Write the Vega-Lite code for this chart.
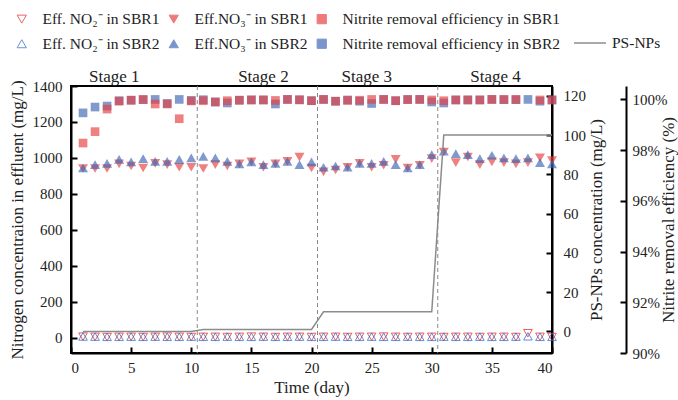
{
  "$schema": "https://vega.github.io/schema/vega-lite/v6.json",
  "width": 481,
  "height": 267,
  "autosize": {"type": "none"},
  "padding": {"left": 71, "top": 86, "right": 126, "bottom": 47},
  "config": {
    "font": "Liberation Serif",
    "text": {"font": "Liberation Serif"},
    "view": {"stroke": "#000", "strokeWidth": 2},
    "axis": {
      "grid": false, "domainColor": "#000", "domainWidth": 2,
      "tickColor": "#000", "tickWidth": 2, "tickSize": -6,
      "labelFont": "Liberation Serif", "labelFontSize": 15, "labelColor": "#222", "labelPadding": 13, "format": "d",
      "titleFont": "Liberation Serif", "titleFontSize": 17, "titleFontWeight": "normal", "titleColor": "#222"
    },
    "legend": {
      "labelFont": "Liberation Serif", "labelFontSize": 15.5, "labelColor": "#222", "padding": 0, "labelLimit": 400
    }
  },
  "datasets": {
    "stages": [
      {"d": 3.6, "v": 1450, "t": "Stage 1"},
      {"d": 16.0, "v": 1450, "t": "Stage 2"},
      {"d": 24.6, "v": 1450, "t": "Stage 3"},
      {"d": 35.3, "v": 1450, "t": "Stage 4"}
    ],
    "cuts": [{"d": 10.5}, {"d": 20.5}, {"d": 30.5}],
    "no2": [
      {"d":1,"s":"no2_1","v":6},{"d":2,"s":"no2_1","v":5},{"d":3,"s":"no2_1","v":4},{"d":4,"s":"no2_1","v":5},{"d":5,"s":"no2_1","v":5},
      {"d":6,"s":"no2_1","v":4},{"d":7,"s":"no2_1","v":5},{"d":8,"s":"no2_1","v":6},{"d":9,"s":"no2_1","v":5},{"d":10,"s":"no2_1","v":4},
      {"d":11,"s":"no2_1","v":5},{"d":12,"s":"no2_1","v":5},{"d":13,"s":"no2_1","v":4},{"d":14,"s":"no2_1","v":5},{"d":15,"s":"no2_1","v":6},
      {"d":16,"s":"no2_1","v":5},{"d":17,"s":"no2_1","v":4},{"d":18,"s":"no2_1","v":5},{"d":19,"s":"no2_1","v":5},{"d":20,"s":"no2_1","v":4},
      {"d":21,"s":"no2_1","v":5},{"d":22,"s":"no2_1","v":5},{"d":23,"s":"no2_1","v":4},{"d":24,"s":"no2_1","v":5},{"d":25,"s":"no2_1","v":5},
      {"d":26,"s":"no2_1","v":6},{"d":27,"s":"no2_1","v":5},{"d":28,"s":"no2_1","v":4},{"d":29,"s":"no2_1","v":5},{"d":30,"s":"no2_1","v":5},
      {"d":31,"s":"no2_1","v":4},{"d":32,"s":"no2_1","v":5},{"d":33,"s":"no2_1","v":5},{"d":34,"s":"no2_1","v":4},{"d":35,"s":"no2_1","v":5},
      {"d":36,"s":"no2_1","v":5},{"d":37,"s":"no2_1","v":4},{"d":38,"s":"no2_1","v":25},{"d":39,"s":"no2_1","v":5},{"d":40,"s":"no2_1","v":4},
      {"d":1,"s":"no2_2","v":7},{"d":2,"s":"no2_2","v":6},{"d":3,"s":"no2_2","v":5},{"d":4,"s":"no2_2","v":5},{"d":5,"s":"no2_2","v":6},
      {"d":6,"s":"no2_2","v":5},{"d":7,"s":"no2_2","v":6},{"d":8,"s":"no2_2","v":5},{"d":9,"s":"no2_2","v":5},{"d":10,"s":"no2_2","v":6},
      {"d":11,"s":"no2_2","v":5},{"d":12,"s":"no2_2","v":5},{"d":13,"s":"no2_2","v":6},{"d":14,"s":"no2_2","v":5},{"d":15,"s":"no2_2","v":5},
      {"d":16,"s":"no2_2","v":6},{"d":17,"s":"no2_2","v":5},{"d":18,"s":"no2_2","v":5},{"d":19,"s":"no2_2","v":6},{"d":20,"s":"no2_2","v":5},
      {"d":21,"s":"no2_2","v":5},{"d":22,"s":"no2_2","v":6},{"d":23,"s":"no2_2","v":5},{"d":24,"s":"no2_2","v":5},{"d":25,"s":"no2_2","v":6},
      {"d":26,"s":"no2_2","v":5},{"d":27,"s":"no2_2","v":5},{"d":28,"s":"no2_2","v":6},{"d":29,"s":"no2_2","v":5},{"d":30,"s":"no2_2","v":5},
      {"d":31,"s":"no2_2","v":6},{"d":32,"s":"no2_2","v":5},{"d":33,"s":"no2_2","v":5},{"d":34,"s":"no2_2","v":6},{"d":35,"s":"no2_2","v":5},
      {"d":36,"s":"no2_2","v":5},{"d":37,"s":"no2_2","v":6},{"d":38,"s":"no2_2","v":8},{"d":39,"s":"no2_2","v":5},{"d":40,"s":"no2_2","v":5}
    ],
    "no3": [
      {"d":1,"s":"no3_1","v":941},{"d":2,"s":"no3_1","v":941},{"d":3,"s":"no3_1","v":941},{"d":4,"s":"no3_1","v":967},{"d":5,"s":"no3_1","v":955},
      {"d":6,"s":"no3_1","v":944},{"d":7,"s":"no3_1","v":970},{"d":8,"s":"no3_1","v":963},{"d":9,"s":"no3_1","v":948},{"d":10,"s":"no3_1","v":948},
      {"d":11,"s":"no3_1","v":941},{"d":12,"s":"no3_1","v":963},{"d":13,"s":"no3_1","v":955},{"d":14,"s":"no3_1","v":967},{"d":15,"s":"no3_1","v":978},
      {"d":16,"s":"no3_1","v":948},{"d":17,"s":"no3_1","v":967},{"d":18,"s":"no3_1","v":981},{"d":19,"s":"no3_1","v":1004},{"d":20,"s":"no3_1","v":944},
      {"d":21,"s":"no3_1","v":922},{"d":22,"s":"no3_1","v":933},{"d":23,"s":"no3_1","v":948},{"d":24,"s":"no3_1","v":970},{"d":25,"s":"no3_1","v":948},
      {"d":26,"s":"no3_1","v":959},{"d":27,"s":"no3_1","v":992},{"d":28,"s":"no3_1","v":944},{"d":29,"s":"no3_1","v":959},{"d":30,"s":"no3_1","v":996},
      {"d":31,"s":"no3_1","v":1033},{"d":32,"s":"no3_1","v":974},{"d":33,"s":"no3_1","v":1005},{"d":34,"s":"no3_1","v":963},{"d":35,"s":"no3_1","v":978},
      {"d":36,"s":"no3_1","v":974},{"d":37,"s":"no3_1","v":967},{"d":38,"s":"no3_1","v":974},{"d":39,"s":"no3_1","v":1000},{"d":40,"s":"no3_1","v":985},
      {"d":1,"s":"no3_2","v":944},{"d":2,"s":"no3_2","v":963},{"d":3,"s":"no3_2","v":970},{"d":4,"s":"no3_2","v":992},{"d":5,"s":"no3_2","v":978},
      {"d":6,"s":"no3_2","v":996},{"d":7,"s":"no3_2","v":981},{"d":8,"s":"no3_2","v":981},{"d":9,"s":"no3_2","v":992},{"d":10,"s":"no3_2","v":1000},
      {"d":11,"s":"no3_2","v":1009},{"d":12,"s":"no3_2","v":1000},{"d":13,"s":"no3_2","v":981},{"d":14,"s":"no3_2","v":967},{"d":15,"s":"no3_2","v":978},
      {"d":16,"s":"no3_2","v":963},{"d":17,"s":"no3_2","v":970},{"d":18,"s":"no3_2","v":981},{"d":19,"s":"no3_2","v":963},{"d":20,"s":"no3_2","v":978},
      {"d":21,"s":"no3_2","v":948},{"d":22,"s":"no3_2","v":955},{"d":23,"s":"no3_2","v":948},{"d":24,"s":"no3_2","v":970},{"d":25,"s":"no3_2","v":970},
      {"d":26,"s":"no3_2","v":981},{"d":27,"s":"no3_2","v":963},{"d":28,"s":"no3_2","v":944},{"d":29,"s":"no3_2","v":963},{"d":30,"s":"no3_2","v":1018},
      {"d":31,"s":"no3_2","v":1037},{"d":32,"s":"no3_2","v":1024},{"d":33,"s":"no3_2","v":1018},{"d":34,"s":"no3_2","v":996},{"d":35,"s":"no3_2","v":1015},
      {"d":36,"s":"no3_2","v":1000},{"d":37,"s":"no3_2","v":996},{"d":38,"s":"no3_2","v":1000},{"d":39,"s":"no3_2","v":974},{"d":40,"s":"no3_2","v":967}
    ],
    "eff": [
      {"d":1,"s":"eff_2","v":99.47},{"d":2,"s":"eff_2","v":99.70},{"d":3,"s":"eff_2","v":99.74},{"d":4,"s":"eff_2","v":99.95},{"d":5,"s":"eff_2","v":99.97},
      {"d":6,"s":"eff_2","v":99.99},{"d":7,"s":"eff_2","v":100.0},{"d":8,"s":"eff_2","v":99.84},{"d":9,"s":"eff_2","v":100.0},{"d":10,"s":"eff_2","v":99.96},
      {"d":11,"s":"eff_2","v":99.99},{"d":12,"s":"eff_2","v":99.90},{"d":13,"s":"eff_2","v":99.86},{"d":14,"s":"eff_2","v":99.97},{"d":15,"s":"eff_2","v":99.98},
      {"d":16,"s":"eff_2","v":99.98},{"d":17,"s":"eff_2","v":99.82},{"d":18,"s":"eff_2","v":100.0},{"d":19,"s":"eff_2","v":99.98},{"d":20,"s":"eff_2","v":99.95},
      {"d":21,"s":"eff_2","v":100.0},{"d":22,"s":"eff_2","v":99.93},{"d":23,"s":"eff_2","v":99.98},{"d":24,"s":"eff_2","v":99.93},{"d":25,"s":"eff_2","v":99.84},
      {"d":26,"s":"eff_2","v":100.0},{"d":27,"s":"eff_2","v":99.95},{"d":28,"s":"eff_2","v":100.0},{"d":29,"s":"eff_2","v":100.0},{"d":30,"s":"eff_2","v":99.90},
      {"d":31,"s":"eff_2","v":99.86},{"d":32,"s":"eff_2","v":99.98},{"d":33,"s":"eff_2","v":99.98},{"d":34,"s":"eff_2","v":99.98},{"d":35,"s":"eff_2","v":100.0},
      {"d":36,"s":"eff_2","v":99.99},{"d":37,"s":"eff_2","v":99.99},{"d":38,"s":"eff_2","v":100.0},{"d":39,"s":"eff_2","v":99.93},{"d":40,"s":"eff_2","v":99.98},
      {"d":1,"s":"eff_1","v":98.28},{"d":2,"s":"eff_1","v":98.73},{"d":3,"s":"eff_1","v":99.62},{"d":4,"s":"eff_1","v":99.93},{"d":5,"s":"eff_1","v":99.97},
      {"d":6,"s":"eff_1","v":100.0},{"d":7,"s":"eff_1","v":99.82},{"d":8,"s":"eff_1","v":99.82},{"d":9,"s":"eff_1","v":99.24},{"d":10,"s":"eff_1","v":99.94},
      {"d":11,"s":"eff_1","v":99.95},{"d":12,"s":"eff_1","v":99.90},{"d":13,"s":"eff_1","v":99.95},{"d":14,"s":"eff_1","v":99.97},{"d":15,"s":"eff_1","v":99.98},
      {"d":16,"s":"eff_1","v":99.98},{"d":17,"s":"eff_1","v":99.96},{"d":18,"s":"eff_1","v":100.0},{"d":19,"s":"eff_1","v":99.99},{"d":20,"s":"eff_1","v":99.95},
      {"d":21,"s":"eff_1","v":100.0},{"d":22,"s":"eff_1","v":99.93},{"d":23,"s":"eff_1","v":99.96},{"d":24,"s":"eff_1","v":99.97},{"d":25,"s":"eff_1","v":100.0},
      {"d":26,"s":"eff_1","v":100.0},{"d":27,"s":"eff_1","v":99.95},{"d":28,"s":"eff_1","v":99.99},{"d":29,"s":"eff_1","v":100.0},{"d":30,"s":"eff_1","v":99.98},
      {"d":31,"s":"eff_1","v":99.95},{"d":32,"s":"eff_1","v":99.98},{"d":33,"s":"eff_1","v":99.98},{"d":34,"s":"eff_1","v":99.98},{"d":35,"s":"eff_1","v":100.0},
      {"d":36,"s":"eff_1","v":100.0},{"d":37,"s":"eff_1","v":100.0},{"d":39,"s":"eff_1","v":99.98},{"d":40,"s":"eff_1","v":99.98}
    ],
    "ps": [
      {"d":1,"n":"PS-NPs","v":0},{"d":2,"n":"PS-NPs","v":0},{"d":3,"n":"PS-NPs","v":0},{"d":4,"n":"PS-NPs","v":0},{"d":5,"n":"PS-NPs","v":0},
      {"d":6,"n":"PS-NPs","v":0},{"d":7,"n":"PS-NPs","v":0},{"d":8,"n":"PS-NPs","v":0},{"d":9,"n":"PS-NPs","v":0},{"d":10,"n":"PS-NPs","v":0},
      {"d":11,"n":"PS-NPs","v":1},{"d":12,"n":"PS-NPs","v":1},{"d":13,"n":"PS-NPs","v":1},{"d":14,"n":"PS-NPs","v":1},{"d":15,"n":"PS-NPs","v":1},
      {"d":16,"n":"PS-NPs","v":1},{"d":17,"n":"PS-NPs","v":1},{"d":18,"n":"PS-NPs","v":1},{"d":19,"n":"PS-NPs","v":1},{"d":20,"n":"PS-NPs","v":1},
      {"d":21,"n":"PS-NPs","v":10},{"d":22,"n":"PS-NPs","v":10},{"d":23,"n":"PS-NPs","v":10},{"d":24,"n":"PS-NPs","v":10},{"d":25,"n":"PS-NPs","v":10},
      {"d":26,"n":"PS-NPs","v":10},{"d":27,"n":"PS-NPs","v":10},{"d":28,"n":"PS-NPs","v":10},{"d":29,"n":"PS-NPs","v":10},{"d":30,"n":"PS-NPs","v":10},
      {"d":31,"n":"PS-NPs","v":100},{"d":32,"n":"PS-NPs","v":100},{"d":33,"n":"PS-NPs","v":100},{"d":34,"n":"PS-NPs","v":100},{"d":35,"n":"PS-NPs","v":100},
      {"d":36,"n":"PS-NPs","v":100},{"d":37,"n":"PS-NPs","v":100},{"d":38,"n":"PS-NPs","v":100},{"d":39,"n":"PS-NPs","v":100},{"d":40,"n":"PS-NPs","v":100}
    ]
  },
  "layer": [
    {
      "layer": [
        {
          "data": {"name": "cuts"},
          "mark": {"type": "rule", "color": "#888", "strokeWidth": 1, "strokeDash": [4, 3]},
          "encoding": {
            "x": {"field": "d", "type": "quantitative", "scale": {"domain": [0, 40], "nice": false}, "axis": {"values": [0,5,10,15,20,25,30,35,40], "title": "Time (day)", "titlePadding": 4}}
          }
        },
        {
          "data": {"name": "stages"},
          "mark": {"type": "text", "font": "Liberation Serif", "fontSize": 17, "color": "#222", "baseline": "middle"},
          "encoding": {
            "x": {"field": "d", "type": "quantitative", "scale": {"domain": [0, 40], "nice": false}, "axis": {"values": [0,5,10,15,20,25,30,35,40], "title": "Time (day)", "titlePadding": 4}},
            "y": {"field": "v", "type": "quantitative", "scale": {"domain": [-85, 1400], "nice": false, "zero": false}, "axis": {"orient": "left", "values": [0,200,400,600,800,1000,1200,1400], "labelPadding": 15, "titlePadding": 6, "title": "Nitrogen concentraion in effluent (mg/L)"}},
            "text": {"field": "t"}
          }
        },
        {
          "data": {"name": "no2"},
          "mark": {"type": "point", "size": 75, "strokeWidth": 1, "opacity": 0.7},
          "encoding": {
            "x": {"field": "d", "type": "quantitative", "scale": {"domain": [0, 40], "nice": false}, "axis": {"values": [0,5,10,15,20,25,30,35,40], "title": "Time (day)", "titlePadding": 4}},
            "y": {"field": "v", "type": "quantitative", "scale": {"domain": [-85, 1400], "nice": false, "zero": false}, "axis": {"orient": "left", "values": [0,200,400,600,800,1000,1200,1400], "labelPadding": 15, "titlePadding": 6, "title": "Nitrogen concentraion in effluent (mg/L)"}},
            "shape": {"field": "s", "type": "nominal",
              "scale": {"domain": ["no2_1","no3_1","eff_1","no2_2","no3_2","eff_2"], "range": ["triangle-down","triangle-down","square","triangle-up","triangle-up","square"]},
              "legend": {"orient": "none", "legendX": -57, "legendY": -75, "direction": "horizontal", "columns": 3, "title": null, "symbolSize": 85, "symbolStrokeWidth": 1, "symbolOpacity": 0.68, "labelOffset": 13, "columnPadding": 6, "rowPadding": 8,
                "labelExpr": "{'no2_1':'Eff. NO₂⁻ in SBR1','no3_1':'Eff.NO₃⁻ in SBR1','eff_1':'Nitrite removal efficiency in SBR1','no2_2':'Eff. NO₂⁻ in SBR2','no3_2':'Eff.NO₃⁻ in SBR2','eff_2':'Nitrite removal efficiency in SBR2'}[datum.value]"}},
            "fill": {"field": "s", "type": "nominal",
              "scale": {"domain": ["no2_1","no3_1","eff_1","no2_2","no3_2","eff_2"], "range": ["transparent","#E63C3C","#E63C3C","transparent","#3C64B4","#3C64B4"]}},
            "stroke": {"field": "s", "type": "nominal",
              "scale": {"domain": ["no2_1","no3_1","eff_1","no2_2","no3_2","eff_2"], "range": ["#E01A1A","#E63C3C","#E63C3C","#2060C8","#3C64B4","#3C64B4"]}}
          }
        },
        {
          "data": {"name": "no3"},
          "mark": {"type": "point", "size": 100, "strokeWidth": 0, "opacity": 0.65},
          "encoding": {
            "x": {"field": "d", "type": "quantitative", "scale": {"domain": [0, 40], "nice": false}, "axis": {"values": [0,5,10,15,20,25,30,35,40], "title": "Time (day)", "titlePadding": 4}},
            "y": {"field": "v", "type": "quantitative", "scale": {"domain": [-85, 1400], "nice": false, "zero": false}, "axis": {"orient": "left", "values": [0,200,400,600,800,1000,1200,1400], "labelPadding": 15, "titlePadding": 6, "title": "Nitrogen concentraion in effluent (mg/L)"}},
            "shape": {"field": "s", "type": "nominal"},
            "fill": {"field": "s", "type": "nominal"},
            "stroke": {"field": "s", "type": "nominal"}
          }
        }
      ]
    },
    {
      "data": {"name": "eff"},
      "mark": {"type": "point", "size": 75, "strokeWidth": 0, "opacity": 0.65},
      "encoding": {
        "x": {"field": "d", "type": "quantitative", "scale": {"domain": [0, 40], "nice": false}, "axis": {"values": [0,5,10,15,20,25,30,35,40], "title": "Time (day)", "titlePadding": 4}},
        "y": {"field": "v", "type": "quantitative", "scale": {"domain": [90, 100.53], "nice": false, "zero": false},
          "axis": {"orient": "right", "offset": 74, "values": [90,92,94,96,98,100], "labelExpr": "datum.value + '%'", "labelPadding": 12, "titleAngle": 270, "titleBaseline": "top", "titlePadding": -6, "title": "Nitrite removal efficiency (%)"}},
        "shape": {"field": "s", "type": "nominal"},
        "fill": {"field": "s", "type": "nominal"},
        "stroke": {"field": "s", "type": "nominal"}
      }
    },
    {
      "data": {"name": "ps"},
      "mark": {"type": "line", "strokeWidth": 1.5, "interpolate": "linear"},
      "encoding": {
        "x": {"field": "d", "type": "quantitative", "scale": {"domain": [0, 40], "nice": false}, "axis": {"values": [0,5,10,15,20,25,30,35,40], "title": "Time (day)", "titlePadding": 4}},
        "y": {"field": "v", "type": "quantitative", "scale": {"domain": [-11, 125], "nice": false, "zero": false},
          "axis": {"orient": "right", "values": [0,20,40,60,80,100,120], "labelPadding": 17, "titleAngle": 270, "titleBaseline": "top", "titlePadding": 3, "title": "PS-NPs concentration (mg/L)"}},
        "color": {"field": "n", "type": "nominal", "scale": {"range": ["#8C8C8C"]},
          "legend": {"orient": "none", "legendX": 502, "legendY": -60, "title": null, "symbolType": "stroke", "symbolSize": 1024, "symbolStrokeWidth": 1.5, "labelOffset": 5}}
      }
    }
  ],
  "resolve": {"scale": {"y": "independent"}}
}
